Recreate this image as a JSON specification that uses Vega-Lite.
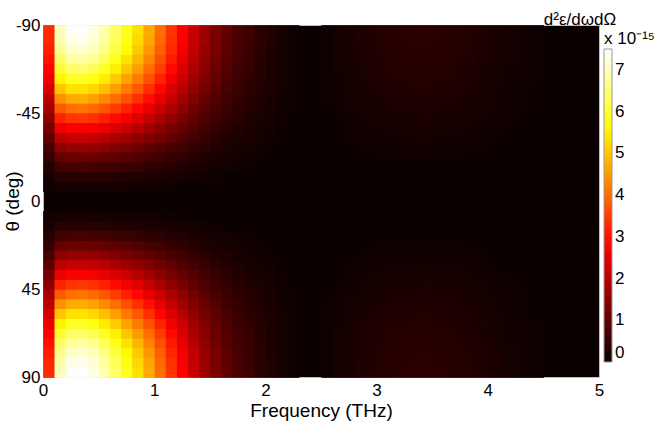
{
"$schema": "https://vega.github.io/schema/vega-lite/v6.json",
"width": 556, "height": 352,
"autosize": "none",
"padding": {"left": 43, "top": 25, "right": 60, "bottom": 48},
"config": {"font": "Liberation Sans", "view": {"fill": "#0b0000", "stroke": "#c0c0c0", "strokeWidth": 1}},
"title": {"text": "d²ε/dωdΩ", "anchor": "end", "align": "center", "frame": "group", "baseline": "alphabetic", "offset": 1, "dy": 27, "dx": -19, "fontSize": 17, "fontWeight": "normal", "color": "#000"},
"data": {"values": [
{"f":0,"t":-90,"v":3.29},{"f":0,"t":-85,"v":3.24},{"f":0,"t":-80,"v":3.15},{"f":0,"t":-75,"v":3.00},{"f":0,"t":-70,"v":2.82},{"f":0,"t":-65,"v":2.60},{"f":0,"t":-60,"v":2.35},{"f":0,"t":-55,"v":2.08},{"f":0,"t":-50,"v":1.79},{"f":0,"t":-45,"v":1.51},{"f":0,"t":-40,"v":1.22},{"f":0,"t":-35,"v":0.95},{"f":0,"t":-30,"v":0.70},{"f":0,"t":-25,"v":0.48},{"f":0,"t":-20,"v":0.30},{"f":0,"t":-15,"v":0.15},{"f":0,"t":-10,"v":0.06},
{"f":0,"t":85,"v":3.29},{"f":0,"t":80,"v":3.24},{"f":0,"t":75,"v":3.15},{"f":0,"t":70,"v":3.00},{"f":0,"t":65,"v":2.82},{"f":0,"t":60,"v":2.60},{"f":0,"t":55,"v":2.35},{"f":0,"t":50,"v":2.08},{"f":0,"t":45,"v":1.79},{"f":0,"t":40,"v":1.51},{"f":0,"t":35,"v":1.22},{"f":0,"t":30,"v":0.95},{"f":0,"t":25,"v":0.70},{"f":0,"t":20,"v":0.48},{"f":0,"t":15,"v":0.30},{"f":0,"t":10,"v":0.15},{"f":0,"t":5,"v":0.06},
{"f":0.1,"t":-90,"v":6.99},{"f":0.1,"t":-85,"v":6.88},{"f":0.1,"t":-80,"v":6.67},{"f":0.1,"t":-75,"v":6.37},{"f":0.1,"t":-70,"v":5.98},{"f":0.1,"t":-65,"v":5.51},{"f":0.1,"t":-60,"v":4.98},{"f":0.1,"t":-55,"v":4.41},{"f":0.1,"t":-50,"v":3.81},{"f":0.1,"t":-45,"v":3.19},{"f":0.1,"t":-40,"v":2.59},{"f":0.1,"t":-35,"v":2.02},{"f":0.1,"t":-30,"v":1.49},{"f":0.1,"t":-25,"v":1.02},{"f":0.1,"t":-20,"v":0.63},{"f":0.1,"t":-15,"v":0.33},{"f":0.1,"t":-10,"v":0.12},
{"f":0.1,"t":85,"v":6.99},{"f":0.1,"t":80,"v":6.88},{"f":0.1,"t":75,"v":6.67},{"f":0.1,"t":70,"v":6.37},{"f":0.1,"t":65,"v":5.98},{"f":0.1,"t":60,"v":5.51},{"f":0.1,"t":55,"v":4.98},{"f":0.1,"t":50,"v":4.41},{"f":0.1,"t":45,"v":3.81},{"f":0.1,"t":40,"v":3.19},{"f":0.1,"t":35,"v":2.59},{"f":0.1,"t":30,"v":2.02},{"f":0.1,"t":25,"v":1.49},{"f":0.1,"t":20,"v":1.02},{"f":0.1,"t":15,"v":0.63},{"f":0.1,"t":10,"v":0.33},{"f":0.1,"t":5,"v":0.12},
{"f":0.2,"t":-90,"v":7.44},{"f":0.2,"t":-85,"v":7.32},{"f":0.2,"t":-80,"v":7.10},{"f":0.2,"t":-75,"v":6.78},{"f":0.2,"t":-70,"v":6.36},{"f":0.2,"t":-65,"v":5.86},{"f":0.2,"t":-60,"v":5.30},{"f":0.2,"t":-55,"v":4.69},{"f":0.2,"t":-50,"v":4.05},{"f":0.2,"t":-45,"v":3.40},{"f":0.2,"t":-40,"v":2.76},{"f":0.2,"t":-35,"v":2.15},{"f":0.2,"t":-30,"v":1.59},{"f":0.2,"t":-25,"v":1.09},{"f":0.2,"t":-20,"v":0.67},{"f":0.2,"t":-15,"v":0.35},{"f":0.2,"t":-10,"v":0.13},
{"f":0.2,"t":85,"v":7.44},{"f":0.2,"t":80,"v":7.32},{"f":0.2,"t":75,"v":7.10},{"f":0.2,"t":70,"v":6.78},{"f":0.2,"t":65,"v":6.36},{"f":0.2,"t":60,"v":5.86},{"f":0.2,"t":55,"v":5.30},{"f":0.2,"t":50,"v":4.69},{"f":0.2,"t":45,"v":4.05},{"f":0.2,"t":40,"v":3.40},{"f":0.2,"t":35,"v":2.76},{"f":0.2,"t":30,"v":2.15},{"f":0.2,"t":25,"v":1.59},{"f":0.2,"t":20,"v":1.09},{"f":0.2,"t":15,"v":0.67},{"f":0.2,"t":10,"v":0.35},{"f":0.2,"t":5,"v":0.13},
{"f":0.3,"t":-90,"v":7.49},{"f":0.3,"t":-85,"v":7.37},{"f":0.3,"t":-80,"v":7.15},{"f":0.3,"t":-75,"v":6.82},{"f":0.3,"t":-70,"v":6.40},{"f":0.3,"t":-65,"v":5.90},{"f":0.3,"t":-60,"v":5.33},{"f":0.3,"t":-55,"v":4.72},{"f":0.3,"t":-50,"v":4.08},{"f":0.3,"t":-45,"v":3.42},{"f":0.3,"t":-40,"v":2.78},{"f":0.3,"t":-35,"v":2.17},{"f":0.3,"t":-30,"v":1.60},{"f":0.3,"t":-25,"v":1.10},{"f":0.3,"t":-20,"v":0.68},{"f":0.3,"t":-15,"v":0.35},{"f":0.3,"t":-10,"v":0.13},
{"f":0.3,"t":85,"v":7.49},{"f":0.3,"t":80,"v":7.37},{"f":0.3,"t":75,"v":7.15},{"f":0.3,"t":70,"v":6.82},{"f":0.3,"t":65,"v":6.40},{"f":0.3,"t":60,"v":5.90},{"f":0.3,"t":55,"v":5.33},{"f":0.3,"t":50,"v":4.72},{"f":0.3,"t":45,"v":4.08},{"f":0.3,"t":40,"v":3.42},{"f":0.3,"t":35,"v":2.78},{"f":0.3,"t":30,"v":2.17},{"f":0.3,"t":25,"v":1.60},{"f":0.3,"t":20,"v":1.10},{"f":0.3,"t":15,"v":0.68},{"f":0.3,"t":10,"v":0.35},{"f":0.3,"t":5,"v":0.13},
{"f":0.4,"t":-90,"v":7.29},{"f":0.4,"t":-85,"v":7.18},{"f":0.4,"t":-80,"v":6.96},{"f":0.4,"t":-75,"v":6.64},{"f":0.4,"t":-70,"v":6.23},{"f":0.4,"t":-65,"v":5.74},{"f":0.4,"t":-60,"v":5.19},{"f":0.4,"t":-55,"v":4.59},{"f":0.4,"t":-50,"v":3.97},{"f":0.4,"t":-45,"v":3.33},{"f":0.4,"t":-40,"v":2.71},{"f":0.4,"t":-35,"v":2.11},{"f":0.4,"t":-30,"v":1.56},{"f":0.4,"t":-25,"v":1.07},{"f":0.4,"t":-20,"v":0.66},{"f":0.4,"t":-15,"v":0.34},{"f":0.4,"t":-10,"v":0.12},
{"f":0.4,"t":85,"v":7.29},{"f":0.4,"t":80,"v":7.18},{"f":0.4,"t":75,"v":6.96},{"f":0.4,"t":70,"v":6.64},{"f":0.4,"t":65,"v":6.23},{"f":0.4,"t":60,"v":5.74},{"f":0.4,"t":55,"v":5.19},{"f":0.4,"t":50,"v":4.59},{"f":0.4,"t":45,"v":3.97},{"f":0.4,"t":40,"v":3.33},{"f":0.4,"t":35,"v":2.71},{"f":0.4,"t":30,"v":2.11},{"f":0.4,"t":25,"v":1.56},{"f":0.4,"t":20,"v":1.07},{"f":0.4,"t":15,"v":0.66},{"f":0.4,"t":10,"v":0.34},{"f":0.4,"t":5,"v":0.12},
{"f":0.5,"t":-90,"v":6.89},{"f":0.5,"t":-85,"v":6.78},{"f":0.5,"t":-80,"v":6.58},{"f":0.5,"t":-75,"v":6.28},{"f":0.5,"t":-70,"v":5.89},{"f":0.5,"t":-65,"v":5.43},{"f":0.5,"t":-60,"v":4.91},{"f":0.5,"t":-55,"v":4.34},{"f":0.5,"t":-50,"v":3.75},{"f":0.5,"t":-45,"v":3.15},{"f":0.5,"t":-40,"v":2.56},{"f":0.5,"t":-35,"v":1.99},{"f":0.5,"t":-30,"v":1.47},{"f":0.5,"t":-25,"v":1.01},{"f":0.5,"t":-20,"v":0.62},{"f":0.5,"t":-15,"v":0.32},{"f":0.5,"t":-10,"v":0.12},
{"f":0.5,"t":85,"v":6.89},{"f":0.5,"t":80,"v":6.78},{"f":0.5,"t":75,"v":6.58},{"f":0.5,"t":70,"v":6.28},{"f":0.5,"t":65,"v":5.89},{"f":0.5,"t":60,"v":5.43},{"f":0.5,"t":55,"v":4.91},{"f":0.5,"t":50,"v":4.34},{"f":0.5,"t":45,"v":3.75},{"f":0.5,"t":40,"v":3.15},{"f":0.5,"t":35,"v":2.56},{"f":0.5,"t":30,"v":1.99},{"f":0.5,"t":25,"v":1.47},{"f":0.5,"t":20,"v":1.01},{"f":0.5,"t":15,"v":0.62},{"f":0.5,"t":10,"v":0.32},{"f":0.5,"t":5,"v":0.12},
{"f":0.6,"t":-90,"v":6.39},{"f":0.6,"t":-85,"v":6.29},{"f":0.6,"t":-80,"v":6.10},{"f":0.6,"t":-75,"v":5.82},{"f":0.6,"t":-70,"v":5.46},{"f":0.6,"t":-65,"v":5.04},{"f":0.6,"t":-60,"v":4.55},{"f":0.6,"t":-55,"v":4.03},{"f":0.6,"t":-50,"v":3.48},{"f":0.6,"t":-45,"v":2.92},{"f":0.6,"t":-40,"v":2.37},{"f":0.6,"t":-35,"v":1.85},{"f":0.6,"t":-30,"v":1.36},{"f":0.6,"t":-25,"v":0.94},{"f":0.6,"t":-20,"v":0.58},{"f":0.6,"t":-15,"v":0.30},{"f":0.6,"t":-10,"v":0.11},
{"f":0.6,"t":85,"v":6.39},{"f":0.6,"t":80,"v":6.29},{"f":0.6,"t":75,"v":6.10},{"f":0.6,"t":70,"v":5.82},{"f":0.6,"t":65,"v":5.46},{"f":0.6,"t":60,"v":5.04},{"f":0.6,"t":55,"v":4.55},{"f":0.6,"t":50,"v":4.03},{"f":0.6,"t":45,"v":3.48},{"f":0.6,"t":40,"v":2.92},{"f":0.6,"t":35,"v":2.37},{"f":0.6,"t":30,"v":1.85},{"f":0.6,"t":25,"v":1.36},{"f":0.6,"t":20,"v":0.94},{"f":0.6,"t":15,"v":0.58},{"f":0.6,"t":10,"v":0.30},{"f":0.6,"t":5,"v":0.11},
{"f":0.7,"t":-90,"v":5.84},{"f":0.7,"t":-85,"v":5.75},{"f":0.7,"t":-80,"v":5.58},{"f":0.7,"t":-75,"v":5.32},{"f":0.7,"t":-70,"v":4.99},{"f":0.7,"t":-65,"v":4.60},{"f":0.7,"t":-60,"v":4.16},{"f":0.7,"t":-55,"v":3.68},{"f":0.7,"t":-50,"v":3.18},{"f":0.7,"t":-45,"v":2.67},{"f":0.7,"t":-40,"v":2.17},{"f":0.7,"t":-35,"v":1.69},{"f":0.7,"t":-30,"v":1.25},{"f":0.7,"t":-25,"v":0.86},{"f":0.7,"t":-20,"v":0.53},{"f":0.7,"t":-15,"v":0.27},{"f":0.7,"t":-10,"v":0.10},
{"f":0.7,"t":85,"v":5.84},{"f":0.7,"t":80,"v":5.75},{"f":0.7,"t":75,"v":5.58},{"f":0.7,"t":70,"v":5.32},{"f":0.7,"t":65,"v":4.99},{"f":0.7,"t":60,"v":4.60},{"f":0.7,"t":55,"v":4.16},{"f":0.7,"t":50,"v":3.68},{"f":0.7,"t":45,"v":3.18},{"f":0.7,"t":40,"v":2.67},{"f":0.7,"t":35,"v":2.17},{"f":0.7,"t":30,"v":1.69},{"f":0.7,"t":25,"v":1.25},{"f":0.7,"t":20,"v":0.86},{"f":0.7,"t":15,"v":0.53},{"f":0.7,"t":10,"v":0.27},{"f":0.7,"t":5,"v":0.10},
{"f":0.8,"t":-90,"v":5.29},{"f":0.8,"t":-85,"v":5.21},{"f":0.8,"t":-80,"v":5.05},{"f":0.8,"t":-75,"v":4.82},{"f":0.8,"t":-70,"v":4.52},{"f":0.8,"t":-65,"v":4.17},{"f":0.8,"t":-60,"v":3.77},{"f":0.8,"t":-55,"v":3.34},{"f":0.8,"t":-50,"v":2.88},{"f":0.8,"t":-45,"v":2.42},{"f":0.8,"t":-40,"v":1.96},{"f":0.8,"t":-35,"v":1.53},{"f":0.8,"t":-30,"v":1.13},{"f":0.8,"t":-25,"v":0.78},{"f":0.8,"t":-20,"v":0.48},{"f":0.8,"t":-15,"v":0.25},{"f":0.8,"t":-10,"v":0.09},
{"f":0.8,"t":85,"v":5.29},{"f":0.8,"t":80,"v":5.21},{"f":0.8,"t":75,"v":5.05},{"f":0.8,"t":70,"v":4.82},{"f":0.8,"t":65,"v":4.52},{"f":0.8,"t":60,"v":4.17},{"f":0.8,"t":55,"v":3.77},{"f":0.8,"t":50,"v":3.34},{"f":0.8,"t":45,"v":2.88},{"f":0.8,"t":40,"v":2.42},{"f":0.8,"t":35,"v":1.96},{"f":0.8,"t":30,"v":1.53},{"f":0.8,"t":25,"v":1.13},{"f":0.8,"t":20,"v":0.78},{"f":0.8,"t":15,"v":0.48},{"f":0.8,"t":10,"v":0.25},{"f":0.8,"t":5,"v":0.09},
{"f":0.9,"t":-90,"v":4.69},{"f":0.9,"t":-85,"v":4.62},{"f":0.9,"t":-80,"v":4.48},{"f":0.9,"t":-75,"v":4.28},{"f":0.9,"t":-70,"v":4.01},{"f":0.9,"t":-65,"v":3.70},{"f":0.9,"t":-60,"v":3.34},{"f":0.9,"t":-55,"v":2.96},{"f":0.9,"t":-50,"v":2.55},{"f":0.9,"t":-45,"v":2.15},{"f":0.9,"t":-40,"v":1.74},{"f":0.9,"t":-35,"v":1.36},{"f":0.9,"t":-30,"v":1.00},{"f":0.9,"t":-25,"v":0.69},{"f":0.9,"t":-20,"v":0.42},{"f":0.9,"t":-15,"v":0.22},{"f":0.9,"t":-10,"v":0.08},
{"f":0.9,"t":85,"v":4.69},{"f":0.9,"t":80,"v":4.62},{"f":0.9,"t":75,"v":4.48},{"f":0.9,"t":70,"v":4.28},{"f":0.9,"t":65,"v":4.01},{"f":0.9,"t":60,"v":3.70},{"f":0.9,"t":55,"v":3.34},{"f":0.9,"t":50,"v":2.96},{"f":0.9,"t":45,"v":2.55},{"f":0.9,"t":40,"v":2.15},{"f":0.9,"t":35,"v":1.74},{"f":0.9,"t":30,"v":1.36},{"f":0.9,"t":25,"v":1.00},{"f":0.9,"t":20,"v":0.69},{"f":0.9,"t":15,"v":0.42},{"f":0.9,"t":10,"v":0.22},{"f":0.9,"t":5,"v":0.08},
{"f":1.0,"t":-90,"v":4.04},{"f":1.0,"t":-85,"v":3.98},{"f":1.0,"t":-80,"v":3.86},{"f":1.0,"t":-75,"v":3.68},{"f":1.0,"t":-70,"v":3.46},{"f":1.0,"t":-65,"v":3.19},{"f":1.0,"t":-60,"v":2.88},{"f":1.0,"t":-55,"v":2.55},{"f":1.0,"t":-50,"v":2.20},{"f":1.0,"t":-45,"v":1.85},{"f":1.0,"t":-40,"v":1.50},{"f":1.0,"t":-35,"v":1.17},{"f":1.0,"t":-30,"v":0.86},{"f":1.0,"t":-25,"v":0.59},{"f":1.0,"t":-20,"v":0.37},{"f":1.0,"t":-15,"v":0.19},{"f":1.0,"t":-10,"v":0.07},
{"f":1.0,"t":85,"v":4.04},{"f":1.0,"t":80,"v":3.98},{"f":1.0,"t":75,"v":3.86},{"f":1.0,"t":70,"v":3.68},{"f":1.0,"t":65,"v":3.46},{"f":1.0,"t":60,"v":3.19},{"f":1.0,"t":55,"v":2.88},{"f":1.0,"t":50,"v":2.55},{"f":1.0,"t":45,"v":2.20},{"f":1.0,"t":40,"v":1.85},{"f":1.0,"t":35,"v":1.50},{"f":1.0,"t":30,"v":1.17},{"f":1.0,"t":25,"v":0.86},{"f":1.0,"t":20,"v":0.59},{"f":1.0,"t":15,"v":0.37},{"f":1.0,"t":10,"v":0.19},{"f":1.0,"t":5,"v":0.07},
{"f":1.1,"t":-90,"v":3.39},{"f":1.1,"t":-85,"v":3.34},{"f":1.1,"t":-80,"v":3.24},{"f":1.1,"t":-75,"v":3.09},{"f":1.1,"t":-70,"v":2.90},{"f":1.1,"t":-65,"v":2.68},{"f":1.1,"t":-60,"v":2.42},{"f":1.1,"t":-55,"v":2.14},{"f":1.1,"t":-50,"v":1.85},{"f":1.1,"t":-45,"v":1.55},{"f":1.1,"t":-40,"v":1.26},{"f":1.1,"t":-35,"v":0.98},{"f":1.1,"t":-30,"v":0.72},{"f":1.1,"t":-25,"v":0.50},{"f":1.1,"t":-20,"v":0.31},{"f":1.1,"t":-15,"v":0.16},{"f":1.1,"t":-10,"v":0.06},
{"f":1.1,"t":85,"v":3.39},{"f":1.1,"t":80,"v":3.34},{"f":1.1,"t":75,"v":3.24},{"f":1.1,"t":70,"v":3.09},{"f":1.1,"t":65,"v":2.90},{"f":1.1,"t":60,"v":2.68},{"f":1.1,"t":55,"v":2.42},{"f":1.1,"t":50,"v":2.14},{"f":1.1,"t":45,"v":1.85},{"f":1.1,"t":40,"v":1.55},{"f":1.1,"t":35,"v":1.26},{"f":1.1,"t":30,"v":0.98},{"f":1.1,"t":25,"v":0.72},{"f":1.1,"t":20,"v":0.50},{"f":1.1,"t":15,"v":0.31},{"f":1.1,"t":10,"v":0.16},{"f":1.1,"t":5,"v":0.06},
{"f":1.2,"t":-90,"v":2.79},{"f":1.2,"t":-85,"v":2.75},{"f":1.2,"t":-80,"v":2.67},{"f":1.2,"t":-75,"v":2.55},{"f":1.2,"t":-70,"v":2.39},{"f":1.2,"t":-65,"v":2.20},{"f":1.2,"t":-60,"v":1.99},{"f":1.2,"t":-55,"v":1.76},{"f":1.2,"t":-50,"v":1.52},{"f":1.2,"t":-45,"v":1.28},{"f":1.2,"t":-40,"v":1.04},{"f":1.2,"t":-35,"v":0.81},{"f":1.2,"t":-30,"v":0.60},{"f":1.2,"t":-25,"v":0.41},{"f":1.2,"t":-20,"v":0.25},{"f":1.2,"t":-15,"v":0.13},
{"f":1.2,"t":85,"v":2.79},{"f":1.2,"t":80,"v":2.75},{"f":1.2,"t":75,"v":2.67},{"f":1.2,"t":70,"v":2.55},{"f":1.2,"t":65,"v":2.39},{"f":1.2,"t":60,"v":2.20},{"f":1.2,"t":55,"v":1.99},{"f":1.2,"t":50,"v":1.76},{"f":1.2,"t":45,"v":1.52},{"f":1.2,"t":40,"v":1.28},{"f":1.2,"t":35,"v":1.04},{"f":1.2,"t":30,"v":0.81},{"f":1.2,"t":25,"v":0.60},{"f":1.2,"t":20,"v":0.41},{"f":1.2,"t":15,"v":0.25},{"f":1.2,"t":10,"v":0.13},
{"f":1.3,"t":-90,"v":2.20},{"f":1.3,"t":-85,"v":2.16},{"f":1.3,"t":-80,"v":2.10},{"f":1.3,"t":-75,"v":2.00},{"f":1.3,"t":-70,"v":1.88},{"f":1.3,"t":-65,"v":1.73},{"f":1.3,"t":-60,"v":1.56},{"f":1.3,"t":-55,"v":1.38},{"f":1.3,"t":-50,"v":1.20},{"f":1.3,"t":-45,"v":1.00},{"f":1.3,"t":-40,"v":0.82},{"f":1.3,"t":-35,"v":0.64},{"f":1.3,"t":-30,"v":0.47},{"f":1.3,"t":-25,"v":0.32},{"f":1.3,"t":-20,"v":0.20},{"f":1.3,"t":-15,"v":0.10},
{"f":1.3,"t":85,"v":2.20},{"f":1.3,"t":80,"v":2.16},{"f":1.3,"t":75,"v":2.10},{"f":1.3,"t":70,"v":2.00},{"f":1.3,"t":65,"v":1.88},{"f":1.3,"t":60,"v":1.73},{"f":1.3,"t":55,"v":1.56},{"f":1.3,"t":50,"v":1.38},{"f":1.3,"t":45,"v":1.20},{"f":1.3,"t":40,"v":1.00},{"f":1.3,"t":35,"v":0.82},{"f":1.3,"t":30,"v":0.64},{"f":1.3,"t":25,"v":0.47},{"f":1.3,"t":20,"v":0.32},{"f":1.3,"t":15,"v":0.20},{"f":1.3,"t":10,"v":0.10},
{"f":1.4,"t":-90,"v":1.70},{"f":1.4,"t":-85,"v":1.67},{"f":1.4,"t":-80,"v":1.62},{"f":1.4,"t":-75,"v":1.55},{"f":1.4,"t":-70,"v":1.45},{"f":1.4,"t":-65,"v":1.34},{"f":1.4,"t":-60,"v":1.21},{"f":1.4,"t":-55,"v":1.07},{"f":1.4,"t":-50,"v":0.92},{"f":1.4,"t":-45,"v":0.78},{"f":1.4,"t":-40,"v":0.63},{"f":1.4,"t":-35,"v":0.49},{"f":1.4,"t":-30,"v":0.36},{"f":1.4,"t":-25,"v":0.25},{"f":1.4,"t":-20,"v":0.15},{"f":1.4,"t":-15,"v":0.08},
{"f":1.4,"t":85,"v":1.70},{"f":1.4,"t":80,"v":1.67},{"f":1.4,"t":75,"v":1.62},{"f":1.4,"t":70,"v":1.55},{"f":1.4,"t":65,"v":1.45},{"f":1.4,"t":60,"v":1.34},{"f":1.4,"t":55,"v":1.21},{"f":1.4,"t":50,"v":1.07},{"f":1.4,"t":45,"v":0.92},{"f":1.4,"t":40,"v":0.78},{"f":1.4,"t":35,"v":0.63},{"f":1.4,"t":30,"v":0.49},{"f":1.4,"t":25,"v":0.36},{"f":1.4,"t":20,"v":0.25},{"f":1.4,"t":15,"v":0.15},{"f":1.4,"t":10,"v":0.08},
{"f":1.5,"t":-90,"v":1.30},{"f":1.5,"t":-85,"v":1.28},{"f":1.5,"t":-80,"v":1.24},{"f":1.5,"t":-75,"v":1.18},{"f":1.5,"t":-70,"v":1.11},{"f":1.5,"t":-65,"v":1.02},{"f":1.5,"t":-60,"v":0.92},{"f":1.5,"t":-55,"v":0.82},{"f":1.5,"t":-50,"v":0.71},{"f":1.5,"t":-45,"v":0.59},{"f":1.5,"t":-40,"v":0.48},{"f":1.5,"t":-35,"v":0.38},{"f":1.5,"t":-30,"v":0.28},{"f":1.5,"t":-25,"v":0.19},{"f":1.5,"t":-20,"v":0.12},{"f":1.5,"t":-15,"v":0.06},
{"f":1.5,"t":85,"v":1.30},{"f":1.5,"t":80,"v":1.28},{"f":1.5,"t":75,"v":1.24},{"f":1.5,"t":70,"v":1.18},{"f":1.5,"t":65,"v":1.11},{"f":1.5,"t":60,"v":1.02},{"f":1.5,"t":55,"v":0.92},{"f":1.5,"t":50,"v":0.82},{"f":1.5,"t":45,"v":0.71},{"f":1.5,"t":40,"v":0.59},{"f":1.5,"t":35,"v":0.48},{"f":1.5,"t":30,"v":0.38},{"f":1.5,"t":25,"v":0.28},{"f":1.5,"t":20,"v":0.19},{"f":1.5,"t":15,"v":0.12},{"f":1.5,"t":10,"v":0.06},
{"f":1.6,"t":-90,"v":0.98},{"f":1.6,"t":-85,"v":0.96},{"f":1.6,"t":-80,"v":0.93},{"f":1.6,"t":-75,"v":0.89},{"f":1.6,"t":-70,"v":0.84},{"f":1.6,"t":-65,"v":0.77},{"f":1.6,"t":-60,"v":0.70},{"f":1.6,"t":-55,"v":0.62},{"f":1.6,"t":-50,"v":0.53},{"f":1.6,"t":-45,"v":0.45},{"f":1.6,"t":-40,"v":0.36},{"f":1.6,"t":-35,"v":0.28},{"f":1.6,"t":-30,"v":0.21},{"f":1.6,"t":-25,"v":0.14},{"f":1.6,"t":-20,"v":0.09},
{"f":1.6,"t":85,"v":0.98},{"f":1.6,"t":80,"v":0.96},{"f":1.6,"t":75,"v":0.93},{"f":1.6,"t":70,"v":0.89},{"f":1.6,"t":65,"v":0.84},{"f":1.6,"t":60,"v":0.77},{"f":1.6,"t":55,"v":0.70},{"f":1.6,"t":50,"v":0.62},{"f":1.6,"t":45,"v":0.53},{"f":1.6,"t":40,"v":0.45},{"f":1.6,"t":35,"v":0.36},{"f":1.6,"t":30,"v":0.28},{"f":1.6,"t":25,"v":0.21},{"f":1.6,"t":20,"v":0.14},{"f":1.6,"t":15,"v":0.09},
{"f":1.7,"t":-90,"v":0.74},{"f":1.7,"t":-85,"v":0.73},{"f":1.7,"t":-80,"v":0.71},{"f":1.7,"t":-75,"v":0.67},{"f":1.7,"t":-70,"v":0.63},{"f":1.7,"t":-65,"v":0.58},{"f":1.7,"t":-60,"v":0.53},{"f":1.7,"t":-55,"v":0.47},{"f":1.7,"t":-50,"v":0.40},{"f":1.7,"t":-45,"v":0.34},{"f":1.7,"t":-40,"v":0.27},{"f":1.7,"t":-35,"v":0.21},{"f":1.7,"t":-30,"v":0.16},{"f":1.7,"t":-25,"v":0.11},{"f":1.7,"t":-20,"v":0.07},
{"f":1.7,"t":85,"v":0.74},{"f":1.7,"t":80,"v":0.73},{"f":1.7,"t":75,"v":0.71},{"f":1.7,"t":70,"v":0.67},{"f":1.7,"t":65,"v":0.63},{"f":1.7,"t":60,"v":0.58},{"f":1.7,"t":55,"v":0.53},{"f":1.7,"t":50,"v":0.47},{"f":1.7,"t":45,"v":0.40},{"f":1.7,"t":40,"v":0.34},{"f":1.7,"t":35,"v":0.27},{"f":1.7,"t":30,"v":0.21},{"f":1.7,"t":25,"v":0.16},{"f":1.7,"t":20,"v":0.11},{"f":1.7,"t":15,"v":0.07},
{"f":1.8,"t":-90,"v":0.55},{"f":1.8,"t":-85,"v":0.54},{"f":1.8,"t":-80,"v":0.52},{"f":1.8,"t":-75,"v":0.50},{"f":1.8,"t":-70,"v":0.47},{"f":1.8,"t":-65,"v":0.43},{"f":1.8,"t":-60,"v":0.39},{"f":1.8,"t":-55,"v":0.35},{"f":1.8,"t":-50,"v":0.30},{"f":1.8,"t":-45,"v":0.25},{"f":1.8,"t":-40,"v":0.20},{"f":1.8,"t":-35,"v":0.16},{"f":1.8,"t":-30,"v":0.12},{"f":1.8,"t":-25,"v":0.08},{"f":1.8,"t":-20,"v":0.05},
{"f":1.8,"t":85,"v":0.55},{"f":1.8,"t":80,"v":0.54},{"f":1.8,"t":75,"v":0.52},{"f":1.8,"t":70,"v":0.50},{"f":1.8,"t":65,"v":0.47},{"f":1.8,"t":60,"v":0.43},{"f":1.8,"t":55,"v":0.39},{"f":1.8,"t":50,"v":0.35},{"f":1.8,"t":45,"v":0.30},{"f":1.8,"t":40,"v":0.25},{"f":1.8,"t":35,"v":0.20},{"f":1.8,"t":30,"v":0.16},{"f":1.8,"t":25,"v":0.12},{"f":1.8,"t":20,"v":0.08},{"f":1.8,"t":15,"v":0.05},
{"f":1.9,"t":-90,"v":0.38},{"f":1.9,"t":-85,"v":0.37},{"f":1.9,"t":-80,"v":0.36},{"f":1.9,"t":-75,"v":0.35},{"f":1.9,"t":-70,"v":0.32},{"f":1.9,"t":-65,"v":0.30},{"f":1.9,"t":-60,"v":0.27},{"f":1.9,"t":-55,"v":0.24},{"f":1.9,"t":-50,"v":0.21},{"f":1.9,"t":-45,"v":0.17},{"f":1.9,"t":-40,"v":0.14},{"f":1.9,"t":-35,"v":0.11},{"f":1.9,"t":-30,"v":0.08},{"f":1.9,"t":-25,"v":0.06},
{"f":1.9,"t":85,"v":0.38},{"f":1.9,"t":80,"v":0.37},{"f":1.9,"t":75,"v":0.36},{"f":1.9,"t":70,"v":0.35},{"f":1.9,"t":65,"v":0.32},{"f":1.9,"t":60,"v":0.30},{"f":1.9,"t":55,"v":0.27},{"f":1.9,"t":50,"v":0.24},{"f":1.9,"t":45,"v":0.21},{"f":1.9,"t":40,"v":0.17},{"f":1.9,"t":35,"v":0.14},{"f":1.9,"t":30,"v":0.11},{"f":1.9,"t":25,"v":0.08},{"f":1.9,"t":20,"v":0.06},
{"f":2.0,"t":-90,"v":0.24},{"f":2.0,"t":-85,"v":0.24},{"f":2.0,"t":-80,"v":0.23},{"f":2.0,"t":-75,"v":0.22},{"f":2.0,"t":-70,"v":0.20},{"f":2.0,"t":-65,"v":0.19},{"f":2.0,"t":-60,"v":0.17},{"f":2.0,"t":-55,"v":0.15},{"f":2.0,"t":-50,"v":0.13},{"f":2.0,"t":-45,"v":0.11},{"f":2.0,"t":-40,"v":0.09},{"f":2.0,"t":-35,"v":0.07},{"f":2.0,"t":-30,"v":0.05},
{"f":2.0,"t":85,"v":0.24},{"f":2.0,"t":80,"v":0.24},{"f":2.0,"t":75,"v":0.23},{"f":2.0,"t":70,"v":0.22},{"f":2.0,"t":65,"v":0.20},{"f":2.0,"t":60,"v":0.19},{"f":2.0,"t":55,"v":0.17},{"f":2.0,"t":50,"v":0.15},{"f":2.0,"t":45,"v":0.13},{"f":2.0,"t":40,"v":0.11},{"f":2.0,"t":35,"v":0.09},{"f":2.0,"t":30,"v":0.07},{"f":2.0,"t":25,"v":0.05},
{"f":2.1,"t":-90,"v":0.12},{"f":2.1,"t":-85,"v":0.12},{"f":2.1,"t":-80,"v":0.11},{"f":2.1,"t":-75,"v":0.11},{"f":2.1,"t":-70,"v":0.10},{"f":2.1,"t":-65,"v":0.09},{"f":2.1,"t":-60,"v":0.09},{"f":2.1,"t":-55,"v":0.08},{"f":2.1,"t":-50,"v":0.07},{"f":2.1,"t":-45,"v":0.05},{"f":2.1,"t":-40,"v":0.04},
{"f":2.1,"t":85,"v":0.12},{"f":2.1,"t":80,"v":0.12},{"f":2.1,"t":75,"v":0.11},{"f":2.1,"t":70,"v":0.11},{"f":2.1,"t":65,"v":0.10},{"f":2.1,"t":60,"v":0.09},{"f":2.1,"t":55,"v":0.09},{"f":2.1,"t":50,"v":0.08},{"f":2.1,"t":45,"v":0.07},{"f":2.1,"t":40,"v":0.05},{"f":2.1,"t":35,"v":0.04},
{"f":2.2,"t":-90,"v":0.05},{"f":2.2,"t":-85,"v":0.05},{"f":2.2,"t":-80,"v":0.05},{"f":2.2,"t":-75,"v":0.05},{"f":2.2,"t":-70,"v":0.04},{"f":2.2,"t":-65,"v":0.04},{"f":2.2,"t":-60,"v":0.04},{"f":2.2,"t":-55,"v":0.03},{"f":2.2,"t":-50,"v":0.03},
{"f":2.2,"t":85,"v":0.05},{"f":2.2,"t":80,"v":0.05},{"f":2.2,"t":75,"v":0.05},{"f":2.2,"t":70,"v":0.05},{"f":2.2,"t":65,"v":0.04},{"f":2.2,"t":60,"v":0.04},{"f":2.2,"t":55,"v":0.04},{"f":2.2,"t":50,"v":0.03},{"f":2.2,"t":45,"v":0.03},
{"f":2.5,"t":-90,"v":0.04},{"f":2.5,"t":-85,"v":0.04},{"f":2.5,"t":-80,"v":0.04},{"f":2.5,"t":-75,"v":0.04},{"f":2.5,"t":-70,"v":0.04},{"f":2.5,"t":-65,"v":0.04},{"f":2.5,"t":-60,"v":0.03},{"f":2.5,"t":-55,"v":0.03},
{"f":2.5,"t":85,"v":0.04},{"f":2.5,"t":80,"v":0.04},{"f":2.5,"t":75,"v":0.04},{"f":2.5,"t":70,"v":0.04},{"f":2.5,"t":65,"v":0.04},{"f":2.5,"t":60,"v":0.04},{"f":2.5,"t":55,"v":0.03},{"f":2.5,"t":50,"v":0.03},
{"f":2.6,"t":-90,"v":0.10},{"f":2.6,"t":-85,"v":0.10},{"f":2.6,"t":-80,"v":0.10},{"f":2.6,"t":-75,"v":0.09},{"f":2.6,"t":-70,"v":0.09},{"f":2.6,"t":-65,"v":0.08},{"f":2.6,"t":-60,"v":0.07},{"f":2.6,"t":-55,"v":0.06},{"f":2.6,"t":-50,"v":0.05},{"f":2.6,"t":-45,"v":0.04},
{"f":2.6,"t":85,"v":0.10},{"f":2.6,"t":80,"v":0.10},{"f":2.6,"t":75,"v":0.10},{"f":2.6,"t":70,"v":0.09},{"f":2.6,"t":65,"v":0.09},{"f":2.6,"t":60,"v":0.08},{"f":2.6,"t":55,"v":0.07},{"f":2.6,"t":50,"v":0.06},{"f":2.6,"t":45,"v":0.05},{"f":2.6,"t":40,"v":0.04},
{"f":2.7,"t":-90,"v":0.16},{"f":2.7,"t":-85,"v":0.16},{"f":2.7,"t":-80,"v":0.15},{"f":2.7,"t":-75,"v":0.15},{"f":2.7,"t":-70,"v":0.14},{"f":2.7,"t":-65,"v":0.13},{"f":2.7,"t":-60,"v":0.11},{"f":2.7,"t":-55,"v":0.10},{"f":2.7,"t":-50,"v":0.09},{"f":2.7,"t":-45,"v":0.07},{"f":2.7,"t":-40,"v":0.06},{"f":2.7,"t":-35,"v":0.05},
{"f":2.7,"t":85,"v":0.16},{"f":2.7,"t":80,"v":0.16},{"f":2.7,"t":75,"v":0.15},{"f":2.7,"t":70,"v":0.15},{"f":2.7,"t":65,"v":0.14},{"f":2.7,"t":60,"v":0.13},{"f":2.7,"t":55,"v":0.11},{"f":2.7,"t":50,"v":0.10},{"f":2.7,"t":45,"v":0.09},{"f":2.7,"t":40,"v":0.07},{"f":2.7,"t":35,"v":0.06},{"f":2.7,"t":30,"v":0.05},
{"f":2.8,"t":-90,"v":0.21},{"f":2.8,"t":-85,"v":0.21},{"f":2.8,"t":-80,"v":0.20},{"f":2.8,"t":-75,"v":0.19},{"f":2.8,"t":-70,"v":0.18},{"f":2.8,"t":-65,"v":0.17},{"f":2.8,"t":-60,"v":0.15},{"f":2.8,"t":-55,"v":0.13},{"f":2.8,"t":-50,"v":0.11},{"f":2.8,"t":-45,"v":0.10},{"f":2.8,"t":-40,"v":0.08},{"f":2.8,"t":-35,"v":0.06},{"f":2.8,"t":-30,"v":0.04},
{"f":2.8,"t":85,"v":0.21},{"f":2.8,"t":80,"v":0.21},{"f":2.8,"t":75,"v":0.20},{"f":2.8,"t":70,"v":0.19},{"f":2.8,"t":65,"v":0.18},{"f":2.8,"t":60,"v":0.17},{"f":2.8,"t":55,"v":0.15},{"f":2.8,"t":50,"v":0.13},{"f":2.8,"t":45,"v":0.11},{"f":2.8,"t":40,"v":0.10},{"f":2.8,"t":35,"v":0.08},{"f":2.8,"t":30,"v":0.06},{"f":2.8,"t":25,"v":0.04},
{"f":2.9,"t":-90,"v":0.25},{"f":2.9,"t":-85,"v":0.25},{"f":2.9,"t":-80,"v":0.24},{"f":2.9,"t":-75,"v":0.23},{"f":2.9,"t":-70,"v":0.22},{"f":2.9,"t":-65,"v":0.20},{"f":2.9,"t":-60,"v":0.18},{"f":2.9,"t":-55,"v":0.16},{"f":2.9,"t":-50,"v":0.14},{"f":2.9,"t":-45,"v":0.12},{"f":2.9,"t":-40,"v":0.09},{"f":2.9,"t":-35,"v":0.07},{"f":2.9,"t":-30,"v":0.05},
{"f":2.9,"t":85,"v":0.25},{"f":2.9,"t":80,"v":0.25},{"f":2.9,"t":75,"v":0.24},{"f":2.9,"t":70,"v":0.23},{"f":2.9,"t":65,"v":0.22},{"f":2.9,"t":60,"v":0.20},{"f":2.9,"t":55,"v":0.18},{"f":2.9,"t":50,"v":0.16},{"f":2.9,"t":45,"v":0.14},{"f":2.9,"t":40,"v":0.12},{"f":2.9,"t":35,"v":0.09},{"f":2.9,"t":30,"v":0.07},{"f":2.9,"t":25,"v":0.05},
{"f":3.0,"t":-90,"v":0.30},{"f":3.0,"t":-85,"v":0.29},{"f":3.0,"t":-80,"v":0.29},{"f":3.0,"t":-75,"v":0.27},{"f":3.0,"t":-70,"v":0.26},{"f":3.0,"t":-65,"v":0.24},{"f":3.0,"t":-60,"v":0.21},{"f":3.0,"t":-55,"v":0.19},{"f":3.0,"t":-50,"v":0.16},{"f":3.0,"t":-45,"v":0.14},{"f":3.0,"t":-40,"v":0.11},{"f":3.0,"t":-35,"v":0.09},{"f":3.0,"t":-30,"v":0.06},{"f":3.0,"t":-25,"v":0.04},
{"f":3.0,"t":85,"v":0.30},{"f":3.0,"t":80,"v":0.29},{"f":3.0,"t":75,"v":0.29},{"f":3.0,"t":70,"v":0.27},{"f":3.0,"t":65,"v":0.26},{"f":3.0,"t":60,"v":0.24},{"f":3.0,"t":55,"v":0.21},{"f":3.0,"t":50,"v":0.19},{"f":3.0,"t":45,"v":0.16},{"f":3.0,"t":40,"v":0.14},{"f":3.0,"t":35,"v":0.11},{"f":3.0,"t":30,"v":0.09},{"f":3.0,"t":25,"v":0.06},{"f":3.0,"t":20,"v":0.04},
{"f":3.1,"t":-90,"v":0.33},{"f":3.1,"t":-85,"v":0.33},{"f":3.1,"t":-80,"v":0.32},{"f":3.1,"t":-75,"v":0.30},{"f":3.1,"t":-70,"v":0.29},{"f":3.1,"t":-65,"v":0.26},{"f":3.1,"t":-60,"v":0.24},{"f":3.1,"t":-55,"v":0.21},{"f":3.1,"t":-50,"v":0.18},{"f":3.1,"t":-45,"v":0.15},{"f":3.1,"t":-40,"v":0.12},{"f":3.1,"t":-35,"v":0.10},{"f":3.1,"t":-30,"v":0.07},{"f":3.1,"t":-25,"v":0.05},
{"f":3.1,"t":85,"v":0.33},{"f":3.1,"t":80,"v":0.33},{"f":3.1,"t":75,"v":0.32},{"f":3.1,"t":70,"v":0.30},{"f":3.1,"t":65,"v":0.29},{"f":3.1,"t":60,"v":0.26},{"f":3.1,"t":55,"v":0.24},{"f":3.1,"t":50,"v":0.21},{"f":3.1,"t":45,"v":0.18},{"f":3.1,"t":40,"v":0.15},{"f":3.1,"t":35,"v":0.12},{"f":3.1,"t":30,"v":0.10},{"f":3.1,"t":25,"v":0.07},{"f":3.1,"t":20,"v":0.05},
{"f":3.2,"t":-90,"v":0.36},{"f":3.2,"t":-85,"v":0.35},{"f":3.2,"t":-80,"v":0.34},{"f":3.2,"t":-75,"v":0.33},{"f":3.2,"t":-70,"v":0.31},{"f":3.2,"t":-65,"v":0.28},{"f":3.2,"t":-60,"v":0.26},{"f":3.2,"t":-55,"v":0.23},{"f":3.2,"t":-50,"v":0.20},{"f":3.2,"t":-45,"v":0.16},{"f":3.2,"t":-40,"v":0.13},{"f":3.2,"t":-35,"v":0.10},{"f":3.2,"t":-30,"v":0.08},{"f":3.2,"t":-25,"v":0.05},
{"f":3.2,"t":85,"v":0.36},{"f":3.2,"t":80,"v":0.35},{"f":3.2,"t":75,"v":0.34},{"f":3.2,"t":70,"v":0.33},{"f":3.2,"t":65,"v":0.31},{"f":3.2,"t":60,"v":0.28},{"f":3.2,"t":55,"v":0.26},{"f":3.2,"t":50,"v":0.23},{"f":3.2,"t":45,"v":0.20},{"f":3.2,"t":40,"v":0.16},{"f":3.2,"t":35,"v":0.13},{"f":3.2,"t":30,"v":0.10},{"f":3.2,"t":25,"v":0.08},{"f":3.2,"t":20,"v":0.05},
{"f":3.3,"t":-90,"v":0.37},{"f":3.3,"t":-85,"v":0.36},{"f":3.3,"t":-80,"v":0.35},{"f":3.3,"t":-75,"v":0.34},{"f":3.3,"t":-70,"v":0.32},{"f":3.3,"t":-65,"v":0.29},{"f":3.3,"t":-60,"v":0.26},{"f":3.3,"t":-55,"v":0.23},{"f":3.3,"t":-50,"v":0.20},{"f":3.3,"t":-45,"v":0.17},{"f":3.3,"t":-40,"v":0.14},{"f":3.3,"t":-35,"v":0.11},{"f":3.3,"t":-30,"v":0.08},{"f":3.3,"t":-25,"v":0.05},
{"f":3.3,"t":85,"v":0.37},{"f":3.3,"t":80,"v":0.36},{"f":3.3,"t":75,"v":0.35},{"f":3.3,"t":70,"v":0.34},{"f":3.3,"t":65,"v":0.32},{"f":3.3,"t":60,"v":0.29},{"f":3.3,"t":55,"v":0.26},{"f":3.3,"t":50,"v":0.23},{"f":3.3,"t":45,"v":0.20},{"f":3.3,"t":40,"v":0.17},{"f":3.3,"t":35,"v":0.14},{"f":3.3,"t":30,"v":0.11},{"f":3.3,"t":25,"v":0.08},{"f":3.3,"t":20,"v":0.05},
{"f":3.4,"t":-90,"v":0.37},{"f":3.4,"t":-85,"v":0.36},{"f":3.4,"t":-80,"v":0.35},{"f":3.4,"t":-75,"v":0.34},{"f":3.4,"t":-70,"v":0.32},{"f":3.4,"t":-65,"v":0.29},{"f":3.4,"t":-60,"v":0.26},{"f":3.4,"t":-55,"v":0.23},{"f":3.4,"t":-50,"v":0.20},{"f":3.4,"t":-45,"v":0.17},{"f":3.4,"t":-40,"v":0.14},{"f":3.4,"t":-35,"v":0.11},{"f":3.4,"t":-30,"v":0.08},{"f":3.4,"t":-25,"v":0.05},
{"f":3.4,"t":85,"v":0.37},{"f":3.4,"t":80,"v":0.36},{"f":3.4,"t":75,"v":0.35},{"f":3.4,"t":70,"v":0.34},{"f":3.4,"t":65,"v":0.32},{"f":3.4,"t":60,"v":0.29},{"f":3.4,"t":55,"v":0.26},{"f":3.4,"t":50,"v":0.23},{"f":3.4,"t":45,"v":0.20},{"f":3.4,"t":40,"v":0.17},{"f":3.4,"t":35,"v":0.14},{"f":3.4,"t":30,"v":0.11},{"f":3.4,"t":25,"v":0.08},{"f":3.4,"t":20,"v":0.05},
{"f":3.5,"t":-90,"v":0.36},{"f":3.5,"t":-85,"v":0.35},{"f":3.5,"t":-80,"v":0.34},{"f":3.5,"t":-75,"v":0.33},{"f":3.5,"t":-70,"v":0.31},{"f":3.5,"t":-65,"v":0.28},{"f":3.5,"t":-60,"v":0.26},{"f":3.5,"t":-55,"v":0.23},{"f":3.5,"t":-50,"v":0.20},{"f":3.5,"t":-45,"v":0.16},{"f":3.5,"t":-40,"v":0.13},{"f":3.5,"t":-35,"v":0.10},{"f":3.5,"t":-30,"v":0.08},{"f":3.5,"t":-25,"v":0.05},
{"f":3.5,"t":85,"v":0.36},{"f":3.5,"t":80,"v":0.35},{"f":3.5,"t":75,"v":0.34},{"f":3.5,"t":70,"v":0.33},{"f":3.5,"t":65,"v":0.31},{"f":3.5,"t":60,"v":0.28},{"f":3.5,"t":55,"v":0.26},{"f":3.5,"t":50,"v":0.23},{"f":3.5,"t":45,"v":0.20},{"f":3.5,"t":40,"v":0.16},{"f":3.5,"t":35,"v":0.13},{"f":3.5,"t":30,"v":0.10},{"f":3.5,"t":25,"v":0.08},{"f":3.5,"t":20,"v":0.05},
{"f":3.6,"t":-90,"v":0.33},{"f":3.6,"t":-85,"v":0.33},{"f":3.6,"t":-80,"v":0.32},{"f":3.6,"t":-75,"v":0.30},{"f":3.6,"t":-70,"v":0.29},{"f":3.6,"t":-65,"v":0.26},{"f":3.6,"t":-60,"v":0.24},{"f":3.6,"t":-55,"v":0.21},{"f":3.6,"t":-50,"v":0.18},{"f":3.6,"t":-45,"v":0.15},{"f":3.6,"t":-40,"v":0.12},{"f":3.6,"t":-35,"v":0.10},{"f":3.6,"t":-30,"v":0.07},{"f":3.6,"t":-25,"v":0.05},
{"f":3.6,"t":85,"v":0.33},{"f":3.6,"t":80,"v":0.33},{"f":3.6,"t":75,"v":0.32},{"f":3.6,"t":70,"v":0.30},{"f":3.6,"t":65,"v":0.29},{"f":3.6,"t":60,"v":0.26},{"f":3.6,"t":55,"v":0.24},{"f":3.6,"t":50,"v":0.21},{"f":3.6,"t":45,"v":0.18},{"f":3.6,"t":40,"v":0.15},{"f":3.6,"t":35,"v":0.12},{"f":3.6,"t":30,"v":0.10},{"f":3.6,"t":25,"v":0.07},{"f":3.6,"t":20,"v":0.05},
{"f":3.7,"t":-90,"v":0.30},{"f":3.7,"t":-85,"v":0.29},{"f":3.7,"t":-80,"v":0.29},{"f":3.7,"t":-75,"v":0.27},{"f":3.7,"t":-70,"v":0.26},{"f":3.7,"t":-65,"v":0.24},{"f":3.7,"t":-60,"v":0.21},{"f":3.7,"t":-55,"v":0.19},{"f":3.7,"t":-50,"v":0.16},{"f":3.7,"t":-45,"v":0.14},{"f":3.7,"t":-40,"v":0.11},{"f":3.7,"t":-35,"v":0.09},{"f":3.7,"t":-30,"v":0.06},{"f":3.7,"t":-25,"v":0.04},
{"f":3.7,"t":85,"v":0.30},{"f":3.7,"t":80,"v":0.29},{"f":3.7,"t":75,"v":0.29},{"f":3.7,"t":70,"v":0.27},{"f":3.7,"t":65,"v":0.26},{"f":3.7,"t":60,"v":0.24},{"f":3.7,"t":55,"v":0.21},{"f":3.7,"t":50,"v":0.19},{"f":3.7,"t":45,"v":0.16},{"f":3.7,"t":40,"v":0.14},{"f":3.7,"t":35,"v":0.11},{"f":3.7,"t":30,"v":0.09},{"f":3.7,"t":25,"v":0.06},{"f":3.7,"t":20,"v":0.04},
{"f":3.8,"t":-90,"v":0.26},{"f":3.8,"t":-85,"v":0.26},{"f":3.8,"t":-80,"v":0.25},{"f":3.8,"t":-75,"v":0.24},{"f":3.8,"t":-70,"v":0.22},{"f":3.8,"t":-65,"v":0.20},{"f":3.8,"t":-60,"v":0.18},{"f":3.8,"t":-55,"v":0.16},{"f":3.8,"t":-50,"v":0.14},{"f":3.8,"t":-45,"v":0.12},{"f":3.8,"t":-40,"v":0.10},{"f":3.8,"t":-35,"v":0.08},{"f":3.8,"t":-30,"v":0.05},
{"f":3.8,"t":85,"v":0.26},{"f":3.8,"t":80,"v":0.26},{"f":3.8,"t":75,"v":0.25},{"f":3.8,"t":70,"v":0.24},{"f":3.8,"t":65,"v":0.22},{"f":3.8,"t":60,"v":0.20},{"f":3.8,"t":55,"v":0.18},{"f":3.8,"t":50,"v":0.16},{"f":3.8,"t":45,"v":0.14},{"f":3.8,"t":40,"v":0.12},{"f":3.8,"t":35,"v":0.10},{"f":3.8,"t":30,"v":0.08},{"f":3.8,"t":25,"v":0.05},
{"f":3.9,"t":-90,"v":0.22},{"f":3.9,"t":-85,"v":0.22},{"f":3.9,"t":-80,"v":0.21},{"f":3.9,"t":-75,"v":0.20},{"f":3.9,"t":-70,"v":0.19},{"f":3.9,"t":-65,"v":0.17},{"f":3.9,"t":-60,"v":0.16},{"f":3.9,"t":-55,"v":0.14},{"f":3.9,"t":-50,"v":0.12},{"f":3.9,"t":-45,"v":0.10},{"f":3.9,"t":-40,"v":0.08},{"f":3.9,"t":-35,"v":0.06},{"f":3.9,"t":-30,"v":0.05},
{"f":3.9,"t":85,"v":0.22},{"f":3.9,"t":80,"v":0.22},{"f":3.9,"t":75,"v":0.21},{"f":3.9,"t":70,"v":0.20},{"f":3.9,"t":65,"v":0.19},{"f":3.9,"t":60,"v":0.17},{"f":3.9,"t":55,"v":0.16},{"f":3.9,"t":50,"v":0.14},{"f":3.9,"t":45,"v":0.12},{"f":3.9,"t":40,"v":0.10},{"f":3.9,"t":35,"v":0.08},{"f":3.9,"t":30,"v":0.06},{"f":3.9,"t":25,"v":0.05},
{"f":4.0,"t":-90,"v":0.17},{"f":4.0,"t":-85,"v":0.17},{"f":4.0,"t":-80,"v":0.17},{"f":4.0,"t":-75,"v":0.16},{"f":4.0,"t":-70,"v":0.15},{"f":4.0,"t":-65,"v":0.14},{"f":4.0,"t":-60,"v":0.12},{"f":4.0,"t":-55,"v":0.11},{"f":4.0,"t":-50,"v":0.10},{"f":4.0,"t":-45,"v":0.08},{"f":4.0,"t":-40,"v":0.06},{"f":4.0,"t":-35,"v":0.05},
{"f":4.0,"t":85,"v":0.17},{"f":4.0,"t":80,"v":0.17},{"f":4.0,"t":75,"v":0.17},{"f":4.0,"t":70,"v":0.16},{"f":4.0,"t":65,"v":0.15},{"f":4.0,"t":60,"v":0.14},{"f":4.0,"t":55,"v":0.12},{"f":4.0,"t":50,"v":0.11},{"f":4.0,"t":45,"v":0.10},{"f":4.0,"t":40,"v":0.08},{"f":4.0,"t":35,"v":0.06},{"f":4.0,"t":30,"v":0.05},
{"f":4.1,"t":-90,"v":0.13},{"f":4.1,"t":-85,"v":0.13},{"f":4.1,"t":-80,"v":0.12},{"f":4.1,"t":-75,"v":0.12},{"f":4.1,"t":-70,"v":0.11},{"f":4.1,"t":-65,"v":0.10},{"f":4.1,"t":-60,"v":0.09},{"f":4.1,"t":-55,"v":0.08},{"f":4.1,"t":-50,"v":0.07},{"f":4.1,"t":-45,"v":0.06},{"f":4.1,"t":-40,"v":0.05},
{"f":4.1,"t":85,"v":0.13},{"f":4.1,"t":80,"v":0.13},{"f":4.1,"t":75,"v":0.12},{"f":4.1,"t":70,"v":0.12},{"f":4.1,"t":65,"v":0.11},{"f":4.1,"t":60,"v":0.10},{"f":4.1,"t":55,"v":0.09},{"f":4.1,"t":50,"v":0.08},{"f":4.1,"t":45,"v":0.07},{"f":4.1,"t":40,"v":0.06},{"f":4.1,"t":35,"v":0.05},
{"f":4.2,"t":-90,"v":0.09},{"f":4.2,"t":-85,"v":0.09},{"f":4.2,"t":-80,"v":0.09},{"f":4.2,"t":-75,"v":0.09},{"f":4.2,"t":-70,"v":0.08},{"f":4.2,"t":-65,"v":0.07},{"f":4.2,"t":-60,"v":0.07},{"f":4.2,"t":-55,"v":0.06},{"f":4.2,"t":-50,"v":0.05},{"f":4.2,"t":-45,"v":0.04},
{"f":4.2,"t":85,"v":0.09},{"f":4.2,"t":80,"v":0.09},{"f":4.2,"t":75,"v":0.09},{"f":4.2,"t":70,"v":0.09},{"f":4.2,"t":65,"v":0.08},{"f":4.2,"t":60,"v":0.07},{"f":4.2,"t":55,"v":0.07},{"f":4.2,"t":50,"v":0.06},{"f":4.2,"t":45,"v":0.05},{"f":4.2,"t":40,"v":0.04},
{"f":4.3,"t":-90,"v":0.06},{"f":4.3,"t":-85,"v":0.06},{"f":4.3,"t":-80,"v":0.06},{"f":4.3,"t":-75,"v":0.06},{"f":4.3,"t":-70,"v":0.06},{"f":4.3,"t":-65,"v":0.05},{"f":4.3,"t":-60,"v":0.05},{"f":4.3,"t":-55,"v":0.04},{"f":4.3,"t":-50,"v":0.04},
{"f":4.3,"t":85,"v":0.06},{"f":4.3,"t":80,"v":0.06},{"f":4.3,"t":75,"v":0.06},{"f":4.3,"t":70,"v":0.06},{"f":4.3,"t":65,"v":0.06},{"f":4.3,"t":60,"v":0.05},{"f":4.3,"t":55,"v":0.05},{"f":4.3,"t":50,"v":0.04},{"f":4.3,"t":45,"v":0.04},
{"f":4.4,"t":-90,"v":0.04},{"f":4.4,"t":-85,"v":0.04},{"f":4.4,"t":-80,"v":0.04},{"f":4.4,"t":-75,"v":0.04},{"f":4.4,"t":-70,"v":0.03},{"f":4.4,"t":-65,"v":0.03},
{"f":4.4,"t":85,"v":0.04},{"f":4.4,"t":80,"v":0.04},{"f":4.4,"t":75,"v":0.04},{"f":4.4,"t":70,"v":0.04},{"f":4.4,"t":65,"v":0.03},{"f":4.4,"t":60,"v":0.03}
]},
"encoding": {
  "x": {"field": "f", "type": "quantitative", "bin": {"binned": true, "step": 0.1},
        "scale": {"domain": [0, 5], "nice": false, "zero": false},
        "axis": {"title": "Frequency (THz)", "values": [0, 1, 2, 3, 4, 5], "labelExpr": "'' + datum.value", "labelFlush": false, "ticks": false, "domain": false, "grid": false,
                 "labelFontSize": 17, "labelColor": "#000", "labelPadding": 5, "titleFontSize": 19, "titleFontWeight": "normal", "titleColor": "#000", "titlePadding": 3}},
  "y": {"field": "t", "type": "quantitative", "bin": {"binned": true, "step": 5},
        "scale": {"domain": [-90, 90], "reverse": true, "nice": false, "zero": false},
        "axis": {"title": "θ (deg)", "values": [-90, -45, 0, 45, 90], "labelExpr": "'' + datum.value", "labelFlush": false, "ticks": false, "domain": false, "grid": false,
                 "labelFontSize": 17, "labelColor": "#000", "labelPadding": 3, "titleFontSize": 19, "titleFontWeight": "normal", "titleColor": "#000",
                 "titleX": -31, "titleY": 176, "titleBaseline": "middle", "titleAlign": "center", "titleAngle": -90}},
  "color": {"field": "v", "type": "quantitative",
            "scale": {"type": "linear", "domain": [0, 2.8125, 5.625, 7.5], "range": ["#0b0000", "#ff0000", "#ffff00", "#ffffff"], "interpolate": "rgb", "clamp": true},
            "legend": {"type": "gradient", "orient": "none", "legendX": 561, "legendY": 6, "direction": "vertical", "title": "x 10⁻¹⁵",
                       "titleFontSize": 17, "titleFontWeight": "normal", "titleColor": "#000", "titlePadding": 1,
                       "gradientLength": 313, "gradientThickness": 8, "gradientStrokeColor": "#999", "gradientStrokeWidth": 1,
                       "values": [0, 1, 2, 3, 4, 5, 6, 7], "labelFontSize": 17, "labelColor": "#000", "labelOffset": 3, "labelBaseline": "middle"}}
},
"layer": [
  {"mark": {"type": "rect"}},
  {"mark": {"type": "rect"}},
  {"mark": {"type": "rect"}}
]
}
